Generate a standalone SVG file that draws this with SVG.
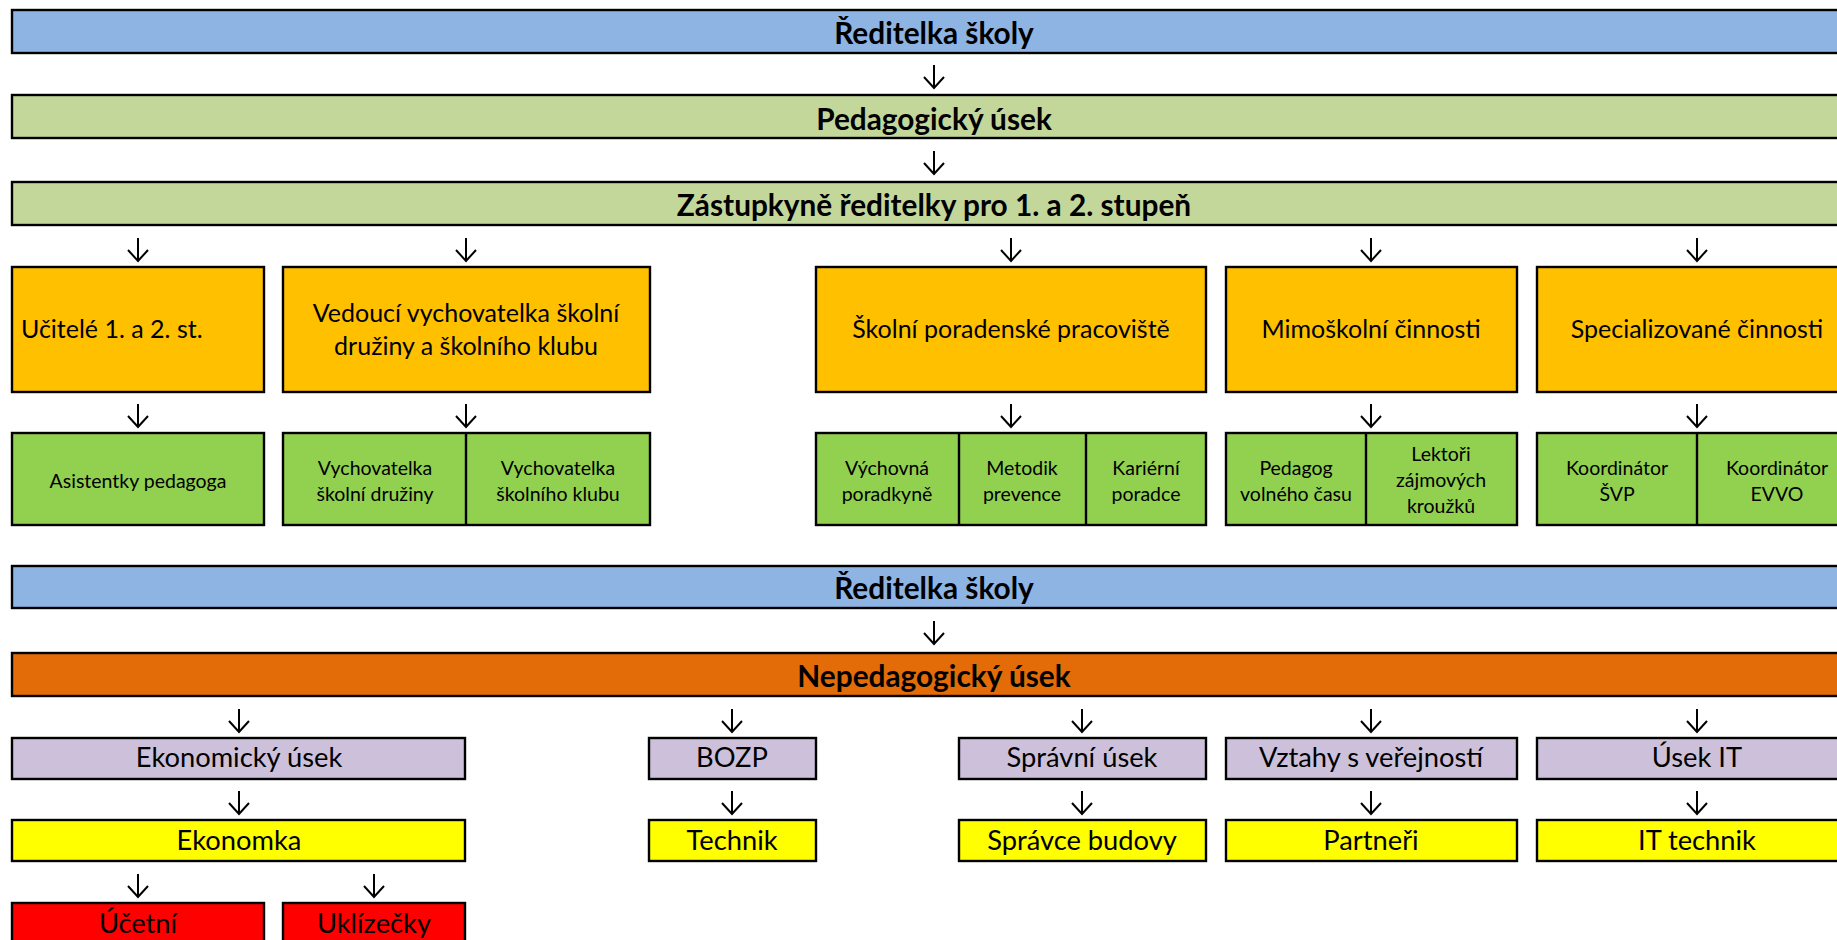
<svg xmlns="http://www.w3.org/2000/svg" xmlns:xlink="http://www.w3.org/1999/xlink" width="1837" height="940" viewBox="0 0 1837 940">
<style>
rect{stroke:#000;stroke-width:2.4}
line.div{stroke:#000;stroke-width:2.4}
text{font-family:Lato,"Noto Sans",sans-serif;fill:#000;text-anchor:middle}
.b{font-weight:bold;font-size:29.8px}
.o{font-size:25px}
.g{font-size:19.5px}
.p{font-size:27.3px}
.blue{fill:#8EB4E3}
.lg{fill:#C4D79B}
.or{fill:#FFC000}
.gr{fill:#92D050}
.dor{fill:#E36C09}
.pu{fill:#CCC0DA}
.ye{fill:#FFFF00}
.re{fill:#FF0000}
.arr{fill:none;stroke:#000;stroke-width:2}
</style>
<defs>
<path id="arr" class="arr" d="M0 0V23M-10 12L0 23L10 12"/>
</defs>
<rect width="1837" height="940" fill="#fff" style="stroke:none"/>

<g id="connectors">
<use href="#arr" x="934" y="65"/>
<use href="#arr" x="934" y="151"/>
<use href="#arr" x="138" y="238"/>
<use href="#arr" x="466" y="238"/>
<use href="#arr" x="1011" y="238"/>
<use href="#arr" x="1371" y="238"/>
<use href="#arr" x="1697" y="238"/>
<use href="#arr" x="138" y="404"/>
<use href="#arr" x="466" y="404"/>
<use href="#arr" x="1011" y="404"/>
<use href="#arr" x="1371" y="404"/>
<use href="#arr" x="1697" y="404"/>
<use href="#arr" x="934" y="621"/>
<use href="#arr" x="239" y="709"/>
<use href="#arr" x="732" y="709"/>
<use href="#arr" x="1082" y="709"/>
<use href="#arr" x="1371" y="709"/>
<use href="#arr" x="1697" y="709"/>
<use href="#arr" x="239" y="791"/>
<use href="#arr" x="732" y="791"/>
<use href="#arr" x="1082" y="791"/>
<use href="#arr" x="1371" y="791"/>
<use href="#arr" x="1697" y="791"/>
<use href="#arr" x="138" y="874"/>
<use href="#arr" x="374" y="874"/>
</g>

<g id="reditelka1"><rect class="blue" x="12" y="10" width="1846" height="43"/><text class="b" x="934" y="44">Ředitelka školy</text></g>
<g id="pedagogicky"><rect class="lg" x="12" y="95" width="1846" height="43"/><text class="b" x="934" y="130">Pedagogický úsek</text></g>
<g id="zastupkyne"><rect class="lg" x="12" y="182" width="1846" height="43"/><text class="b" x="934" y="216">Zástupkyně ředitelky pro 1. a 2. stupeň</text></g>

<g id="ucitele"><rect class="or" x="12" y="267" width="252" height="125"/><text class="o" x="21" y="338" style="text-anchor:start">Učitelé 1. a 2. st.</text></g>
<g id="vedouci"><rect class="or" x="283" y="267" width="367" height="125"/><text class="o" x="466" y="322">Vedoucí vychovatelka školní</text><text class="o" x="466" y="355">družiny a školního klubu</text></g>
<g id="spp"><rect class="or" x="816" y="267" width="390" height="125"/><text class="o" x="1011" y="338">Školní poradenské pracoviště</text></g>
<g id="mimoskolni"><rect class="or" x="1226" y="267" width="291" height="125"/><text class="o" x="1371" y="338">Mimoškolní činnosti</text></g>
<g id="specializovane"><rect class="or" x="1537" y="267" width="321" height="125"/><text class="o" x="1697" y="338">Specializované činnosti</text></g>

<g id="asistentky"><rect class="gr" x="12" y="433" width="252" height="92"/><text class="g" x="138" y="488">Asistentky pedagoga</text></g>
<g id="vychovatelky"><rect class="gr" x="283" y="433" width="367" height="92"/><line class="div" x1="466" y1="433" x2="466" y2="525"/>
<text class="g" x="375" y="475">Vychovatelka</text><text class="g" x="375" y="501">školní družiny</text>
<text class="g" x="558" y="475">Vychovatelka</text><text class="g" x="558" y="501">školního klubu</text></g>
<g id="spp-clenove"><rect class="gr" x="816" y="433" width="390" height="92"/><line class="div" x1="959" y1="433" x2="959" y2="525"/><line class="div" x1="1086" y1="433" x2="1086" y2="525"/>
<text class="g" x="887" y="475">Výchovná</text><text class="g" x="887" y="501">poradkyně</text>
<text class="g" x="1022" y="475">Metodik</text><text class="g" x="1022" y="501">prevence</text>
<text class="g" x="1146" y="475">Kariérní</text><text class="g" x="1146" y="501">poradce</text></g>
<g id="mimoskolni-clenove"><rect class="gr" x="1226" y="433" width="291" height="92"/><line class="div" x1="1366" y1="433" x2="1366" y2="525"/>
<text class="g" x="1296" y="475">Pedagog</text><text class="g" x="1296" y="501">volného času</text>
<text class="g" x="1441" y="461">Lektoři</text><text class="g" x="1441" y="487">zájmových</text><text class="g" x="1441" y="513">kroužků</text></g>
<g id="koordinatori"><rect class="gr" x="1537" y="433" width="321" height="92"/><line class="div" x1="1697" y1="433" x2="1697" y2="525"/>
<text class="g" x="1617" y="475">Koordinátor</text><text class="g" x="1617" y="501">ŠVP</text>
<text class="g" x="1777" y="475">Koordinátor</text><text class="g" x="1777" y="501">EVVO</text></g>

<g id="reditelka2"><rect class="blue" x="12" y="566" width="1846" height="42"/><text class="b" x="934" y="599">Ředitelka školy</text></g>
<g id="nepedagogicky"><rect class="dor" x="12" y="653" width="1846" height="43"/><text class="b" x="934" y="687">Nepedagogický úsek</text></g>

<g id="ekonomicky"><rect class="pu" x="12" y="738" width="453" height="41"/><text class="p" x="239" y="767">Ekonomický úsek</text></g>
<g id="bozp"><rect class="pu" x="649" y="738" width="167" height="41"/><text class="p" x="732" y="767">BOZP</text></g>
<g id="spravni"><rect class="pu" x="959" y="738" width="247" height="41"/><text class="p" x="1082" y="767">Správní úsek</text></g>
<g id="vztahy"><rect class="pu" x="1226" y="738" width="291" height="41"/><text class="p" x="1371" y="767">Vztahy s veřejností</text></g>
<g id="usek-it"><rect class="pu" x="1537" y="738" width="321" height="41"/><text class="p" x="1697" y="767">Úsek IT</text></g>

<g id="ekonomka"><rect class="ye" x="12" y="820" width="453" height="41"/><text class="p" x="239" y="850">Ekonomka</text></g>
<g id="technik"><rect class="ye" x="649" y="820" width="167" height="41"/><text class="p" x="732" y="850">Technik</text></g>
<g id="spravce"><rect class="ye" x="959" y="820" width="247" height="41"/><text class="p" x="1082" y="850">Správce budovy</text></g>
<g id="partneri"><rect class="ye" x="1226" y="820" width="291" height="41"/><text class="p" x="1371" y="850">Partneři</text></g>
<g id="it-technik"><rect class="ye" x="1537" y="820" width="321" height="41"/><text class="p" x="1697" y="850">IT technik</text></g>

<g id="ucetni"><rect class="re" x="12" y="903" width="252" height="50"/><text class="p" x="138" y="933">Účetní</text></g>
<g id="uklizecky"><rect class="re" x="283" y="903" width="182" height="50"/><text class="p" x="374" y="933">Uklízečky</text></g>
</svg>
